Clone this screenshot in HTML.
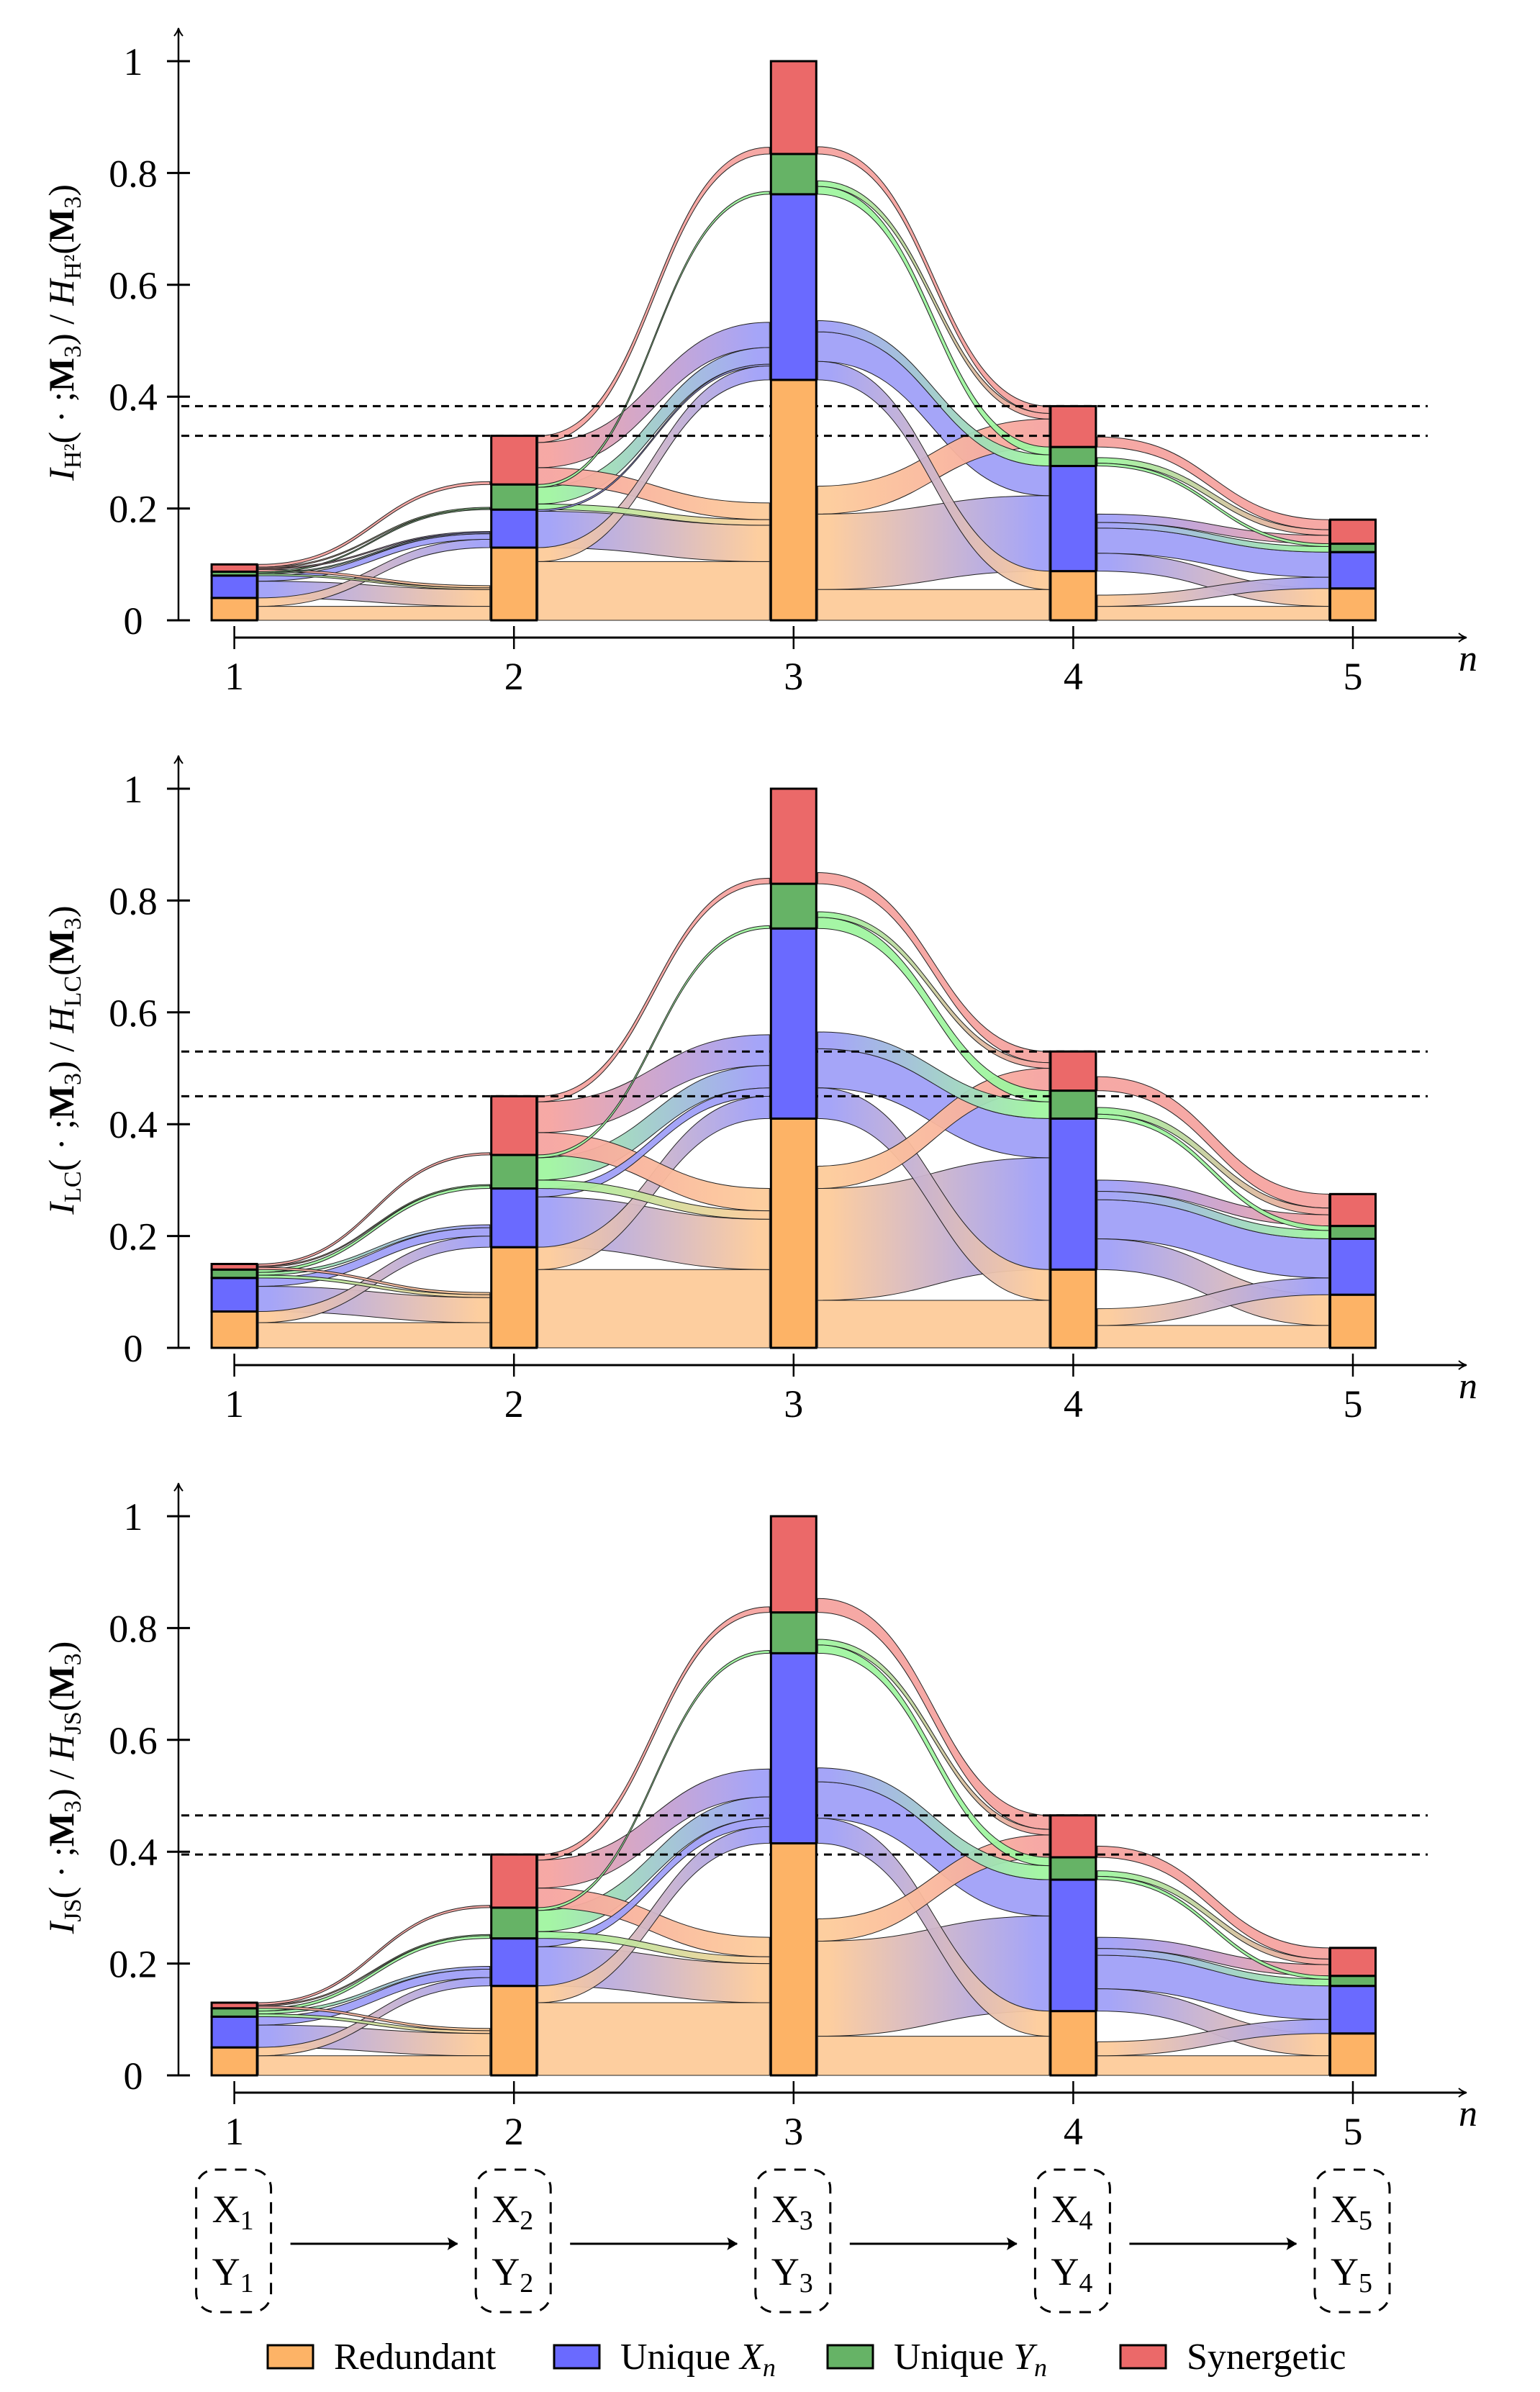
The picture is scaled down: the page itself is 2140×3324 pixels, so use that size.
<!DOCTYPE html>
<html><head><meta charset="utf-8"><style>
body{margin:0;background:#fff}
svg{display:block;font-family:"Liberation Serif",serif}
</style></head><body>
<svg id="root" width="2140" height="3324" viewBox="0 0 2140 3324" xmlns="http://www.w3.org/2000/svg">
<defs>
<marker id="arr" markerWidth="14" markerHeight="14" refX="11" refY="7" orient="auto" markerUnits="userSpaceOnUse"><path d="M1,1 Q7,6 12,7 Q7,8 1,13" fill="none" stroke="#000" stroke-width="2"/></marker>
<marker id="arr2" markerWidth="20" markerHeight="20" refX="16" refY="10" orient="auto" markerUnits="userSpaceOnUse"><path d="M2,1 L17,10 L2,19 Q7,10 2,1 Z" fill="#000"/></marker>
</defs>
<g id="charts"></g>
<g id="diagram"></g>
<g id="legend"></g>
</svg>
<script>
// ---- data ----
const categories = [1, 2, 3, 4, 5];
const yTicks = [0, 0.2, 0.4, 0.6, 0.8, 1];
const yTickLabels = ["0", "0.2", "0.4", "0.6", "0.8", "1"];
const redundantVals = [[0.04,0.13,0.43,0.088,0.057],[0.065,0.18,0.41,0.14,0.095],[0.05,0.16,0.415,0.115,0.075]];
const uniqueXVals = [[0.04,0.068,0.332,0.188,0.065],[0.06,0.105,0.34,0.27,0.10],[0.055,0.085,0.34,0.235,0.085]];
const uniqueYVals = [[0.007,0.045,0.072,0.034,0.015],[0.015,0.06,0.08,0.05,0.023],[0.015,0.055,0.073,0.04,0.018]];
const synergeticVals = [[0.013,0.087,0.166,0.073,0.043],[0.01,0.105,0.17,0.07,0.057],[0.01,0.095,0.172,0.075,0.05]];
const dashedVals = [[0.383,0.33],[0.53,0.45],[0.465,0.395]];
// flows: [gap, source component, target component, amount]  (0=R,1=Ux,2=Uy,3=S)
const flows1 = [
[0,0,0,.025],[0,0,1,.015],[0,1,0,.03],[0,1,1,.01],[0,2,0,.003],[0,2,1,.002],[0,2,2,.002],[0,3,0,.004],[0,3,1,.002],[0,3,2,.002],[0,3,3,.005],
[1,0,0,.105],[1,0,1,.025],[1,1,0,.065],[1,1,1,.003],[1,2,0,.01],[1,2,1,.03],[1,2,2,.005],[1,3,0,.03],[1,3,1,.045],[1,3,3,.012],
[2,0,0,.055],[2,0,1,.135],[2,0,3,.05],[2,1,0,.033],[2,1,1,.053],[2,1,2,.02],[2,2,2,.014],[2,2,3,.01],[2,3,3,.013],
[3,0,0,.025],[3,0,1,.02],[3,1,0,.032],[3,1,1,.045],[3,1,2,.01],[3,1,3,.015],[3,2,2,.005],[3,2,3,.01],[3,3,3,.018]];
const flows2 = [
[0,0,0,.045],[0,0,1,.02],[0,1,0,.045],[0,1,1,.015],[0,2,0,.005],[0,2,1,.005],[0,2,2,.005],[0,3,0,.004],[0,3,2,.002],[0,3,3,.004],
[1,0,0,.14],[1,0,1,.04],[1,1,0,.09],[1,1,1,.015],[1,2,0,.015],[1,2,1,.04],[1,2,2,.005],[1,3,0,.04],[1,3,1,.055],[1,3,3,.01],
[2,0,0,.085],[2,0,1,.2],[2,0,3,.04],[2,1,0,.055],[2,1,1,.07],[2,1,2,.03],[2,2,2,.02],[2,2,3,.01],[2,3,3,.02],
[3,0,0,.04],[3,0,1,.03],[3,1,0,.055],[3,1,1,.07],[3,1,2,.015],[3,1,3,.02],[3,2,2,.008],[3,2,3,.012],[3,3,3,.025]];
const flows3 = [
[0,0,0,.035],[0,0,1,.015],[0,1,0,.04],[0,1,1,.015],[0,2,0,.005],[0,2,1,.005],[0,2,2,.005],[0,3,0,.004],[0,3,2,.002],[0,3,3,.004],
[1,0,0,.13],[1,0,1,.03],[1,1,0,.07],[1,1,1,.015],[1,2,0,.012],[1,2,1,.038],[1,2,2,.005],[1,3,0,.035],[1,3,1,.05],[1,3,3,.01],
[2,0,0,.07],[2,0,1,.17],[2,0,3,.04],[2,1,0,.045],[2,1,1,.065],[2,1,2,.025],[2,2,2,.015],[2,2,3,.01],[2,3,3,.025],
[3,0,0,.035],[3,0,1,.025],[3,1,0,.04],[3,1,1,.06],[3,1,2,.012],[3,1,3,.02],[3,2,2,.006],[3,2,3,.01],[3,3,3,.02]];
const allFlows = [flows1, flows2, flows3];
const compNames = ["redundant","unique-x","unique-y","synergetic"];
const barColors = ["#fdb366","#6a6aff","#66b366","#eb6969"];
const flowColors = ["#fdcb9a","#a0a0f8","#a0f5a0","#f6a4a0"];

const NS = "http://www.w3.org/2000/svg";
function mk(tag, attrs, parent){const e=document.createElementNS(NS,tag);for(const k in attrs)e.setAttribute(k,attrs[k]);if(parent)parent.appendChild(e);return e;}
const root=document.getElementById('root');
const defs=root.querySelector('defs');
const chartsG=document.getElementById('charts');
const BARW=63;
const UNIT=777;
function xPos(n){return 325.6+(n-1)*388.6;}
let gradId=0;

for(let c=0;c<3;c++){
  const y0=862+c*1011;
  const yS=v=>y0-v*UNIT;
  const g=mk('g',{},chartsG);
  
  
  const segs=[redundantVals[c],uniqueXVals[c],uniqueYVals[c],synergeticVals[c]];
  const bottoms=categories.map((_,i)=>{let b=[],acc=0;for(let k=0;k<4;k++){b.push(acc);acc+=segs[k][i];}return b;});
  const fl=allFlows[c];
  for(let gap=0;gap<4;gap++){
    const f=fl.filter(d=>d[0]===gap);
    const srcOff=[0,0,0,0],dstOff=[0,0,0,0];
    const srcPos=new Map(),dstPos=new Map();
    [...f].sort((a,b)=>a[1]-b[1]||a[2]-b[2]).forEach(d=>{srcPos.set(d,bottoms[gap][d[1]]+srcOff[d[1]]);srcOff[d[1]]+=d[3];});
    [...f].sort((a,b)=>a[2]-b[2]||a[1]-b[1]).forEach(d=>{dstPos.set(d,bottoms[gap+1][d[2]]+dstOff[d[2]]);dstOff[d[2]]+=d[3];});
    const x1=xPos(categories[gap])+BARW/2+2, x2=xPos(categories[gap+1])-BARW/2-2, xm=(x1+x2)/2;
    [...f].sort((a,b)=>b[3]-a[3]).forEach(d=>{
      const id='gr'+(gradId++);
      const lg=mk('linearGradient',{id:id,gradientUnits:'userSpaceOnUse',x1:x1,y1:0,x2:x2,y2:0},defs);
      mk('stop',{offset:'0.05','stop-color':flowColors[d[1]]},lg);
      mk('stop',{offset:'0.95','stop-color':flowColors[d[2]]},lg);
      const sb=yS(srcPos.get(d)), st=yS(srcPos.get(d)+d[3]);
      const tb=yS(dstPos.get(d)), tt=yS(dstPos.get(d)+d[3]);
      const p=mk('path',{d:`M${x1},${st} C${xm},${st} ${xm},${tt} ${x2},${tt} L${x2},${tb} C${xm},${tb} ${xm},${sb} ${x1},${sb} Z`,fill:`url(#${id})`,stroke:'#222','stroke-width':1,'fill-opacity':0.95},g);
      
      
    });
  }
  dashedVals[c].forEach((v,i)=>{
    const l=mk('line',{x1:252,x2:1984,y1:yS(v),y2:yS(v),stroke:'#000','stroke-width':3,'stroke-dasharray':'11 8'},g);
    
    
  });
  categories.forEach((n,i)=>{
    const x=xPos(n)-BARW/2;
    for(let k=0;k<4;k++){
      const r=mk('rect',{x:x,y:yS(bottoms[i][k]+segs[k][i]),width:BARW,height:segs[k][i]*UNIT,fill:barColors[k],stroke:'#000','stroke-width':3},g);
      
      
    }
  });
  const ya=mk('line',{x1:248,x2:248,y1:y0,y2:y0-822,stroke:'#000','stroke-width':2.5,'marker-end':'url(#arr)'},g);
  
  
  yTicks.forEach((v,i)=>{
    const t=mk('line',{x1:232,x2:264,y1:yS(v),y2:yS(v),stroke:'#000','stroke-width':3},g);
    
    
    const tx=mk('text',{x:185,y:yS(v)+19,'font-size':54,'text-anchor':'middle'},g);
    tx.textContent=yTickLabels[i];
    
    
  });
  const xa=mk('line',{x1:326,x2:2037,y1:y0+24,y2:y0+24,stroke:'#000','stroke-width':3,'marker-end':'url(#arr)'},g);
  
  
  categories.forEach(n=>{
    const t=mk('line',{x1:xPos(n),x2:xPos(n),y1:y0+8,y2:y0+40,stroke:'#000','stroke-width':2.5},g);
    
    
    const tx=mk('text',{x:xPos(n),y:y0+96,'font-size':54,'text-anchor':'middle'},g);
    tx.textContent=n;
    
    
  });
  const nl=mk('text',{x:2040,y:y0+70,'font-size':52,'font-style':'italic','text-anchor':'middle'},g);
  nl.textContent='n';
  
  
  const subs=['H²','LC','JS'][c];
  const yl=mk('text',{transform:`translate(102,${y0-400}) rotate(-90)`,'font-size':50,'text-anchor':'middle'},g);
  
  
  yl.innerHTML=`<tspan font-style="italic">I</tspan><tspan font-size="34" dy="10">${subs}</tspan><tspan dy="-10">( · ;</tspan><tspan font-weight="bold">M</tspan><tspan font-size="34" dy="10">3</tspan><tspan dy="-10">) / </tspan><tspan font-style="italic">H</tspan><tspan font-size="34" dy="10">${subs}</tspan><tspan dy="-10">(</tspan><tspan font-weight="bold">M</tspan><tspan font-size="34" dy="10">3</tspan><tspan dy="-10">)</tspan>`;
}

// diagram
const dg=document.getElementById('diagram');
categories.forEach((n,i)=>{
  const cx=xPos(n);
  const b=mk('rect',{x:cx-53,y:3015,width:104,height:198,rx:26,fill:'none',stroke:'#000','stroke-width':3,'stroke-dasharray':'16 12'},dg);
  
  
  const tx=mk('text',{x:cx-2,y:3088,'font-size':54,'text-anchor':'middle'},dg);
  tx.innerHTML=`X<tspan font-size="38" dy="10">${n}</tspan>`;
  
  
  const ty=mk('text',{x:cx-2,y:3175,'font-size':54,'text-anchor':'middle'},dg);
  ty.innerHTML=`Y<tspan font-size="38" dy="10">${n}</tspan>`;
  
  
  if(i<4){
    const a=mk('line',{x1:cx+78,x2:cx+310,y1:3118,y2:3118,stroke:'#000','stroke-width':3,'marker-end':'url(#arr2)'},dg);
    
    
  }
});
// legend
const lgG=document.getElementById('legend');
const legendLabels=[['Redundant',''],['Unique ','X'],['Unique ','Y'],['Synergetic','']];
const legX=[372,770,1150,1557];
legendLabels.forEach((lab,k)=>{
  const r=mk('rect',{x:legX[k],y:3259,width:63,height:32,fill:barColors[k],stroke:'#000','stroke-width':3},lgG);
  
  
  const t=mk('text',{x:legX[k]+92,y:3292,'font-size':52},lgG);
  t.innerHTML=lab[1]?`${lab[0]}<tspan font-style="italic">${lab[1]}</tspan><tspan font-style="italic" font-size="36" dy="10">n</tspan>`:lab[0];
  
  
});
</script>
</body></html>
